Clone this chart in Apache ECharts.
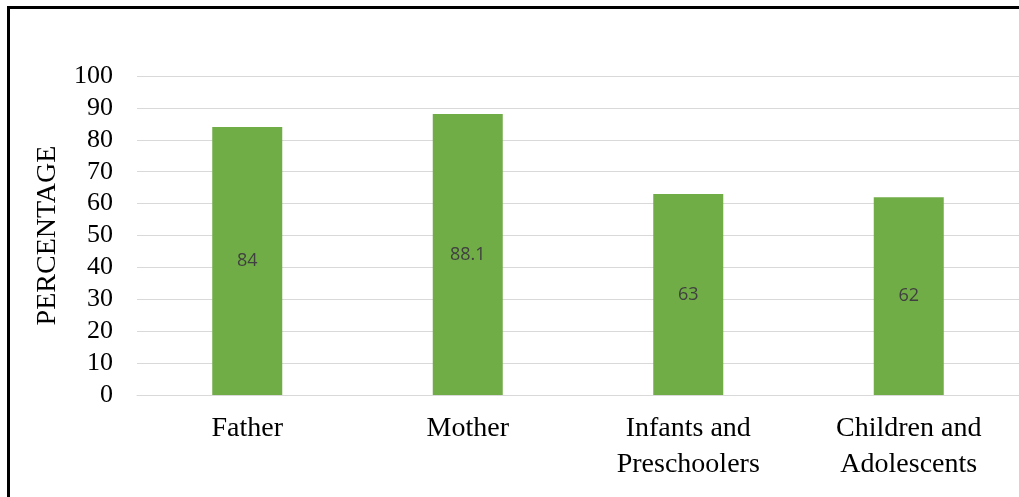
<!DOCTYPE html>
<html>
<head>
<meta charset="utf-8">
<script src="https://cdn.jsdelivr.net/npm/echarts@6/dist/echarts.min.js"></script>
<style>
  html, body { margin: 0; padding: 0; background: #fff; }
  #chart { width: 1019px; height: 497px; }
</style>
</head>
<body>
<div id="chart"></div>
<script>
// Share of respondents by group
const categories = ['Father', 'Mother', 'Infants and\nPreschoolers', 'Children and\nAdolescents'];
const percentages = [84, 88.1, 63, 62];
const yTicks = { min: 0, max: 100, interval: 10 };

const serif = '"Liberation Serif", "Times New Roman", serif';

const chart = echarts.init(document.getElementById('chart'));
chart.setOption({
  animation: false,
  backgroundColor: '#ffffff',
  graphic: [{
    type: 'rect',
    left: 6, top: 5,
    shape: { x: 0, y: 0, width: 1100, height: 600 },
    style: { fill: 'none', stroke: '#000', lineWidth: 3 },
    silent: true
  }],
  grid: { left: 137, top: 76, width: 885, bottom: 102, containLabel: false },
  xAxis: {
    type: 'category',
    data: categories,
    axisLine: { show: true, lineStyle: { color: '#d9d9d9', width: 1 } },
    axisTick: { show: false },
    axisLabel: {
      fontFamily: serif,
      fontSize: 28,
      color: '#000',
      lineHeight: 36,
      margin: 16,
      interval: 0
    }
  },
  yAxis: {
    type: 'value',
    min: yTicks.min, max: yTicks.max, interval: yTicks.interval,
    name: 'PERCENTAGE',
    nameLocation: 'middle',
    nameGap: 75,
    nameRotate: 90,
    nameTextStyle: {
      fontFamily: serif,
      fontSize: 28,
      color: '#000'
    },
    axisLine: { show: false },
    axisTick: { show: false },
    splitLine: { lineStyle: { color: '#d9d9d9', width: 1 } },
    axisLabel: {
      fontFamily: serif,
      fontSize: 26,
      color: '#000',
      margin: 24
    }
  },
  series: [{
    type: 'bar',
    data: percentages,
    barWidth: 70,
    itemStyle: { color: '#70ad47' },
    label: {
      show: true,
      position: 'inside',
      fontFamily: '"Open Sans", "Liberation Sans", sans-serif',
      fontSize: 18,
      color: '#404040'
    }
  }]
});
</script>
</body>
</html>
